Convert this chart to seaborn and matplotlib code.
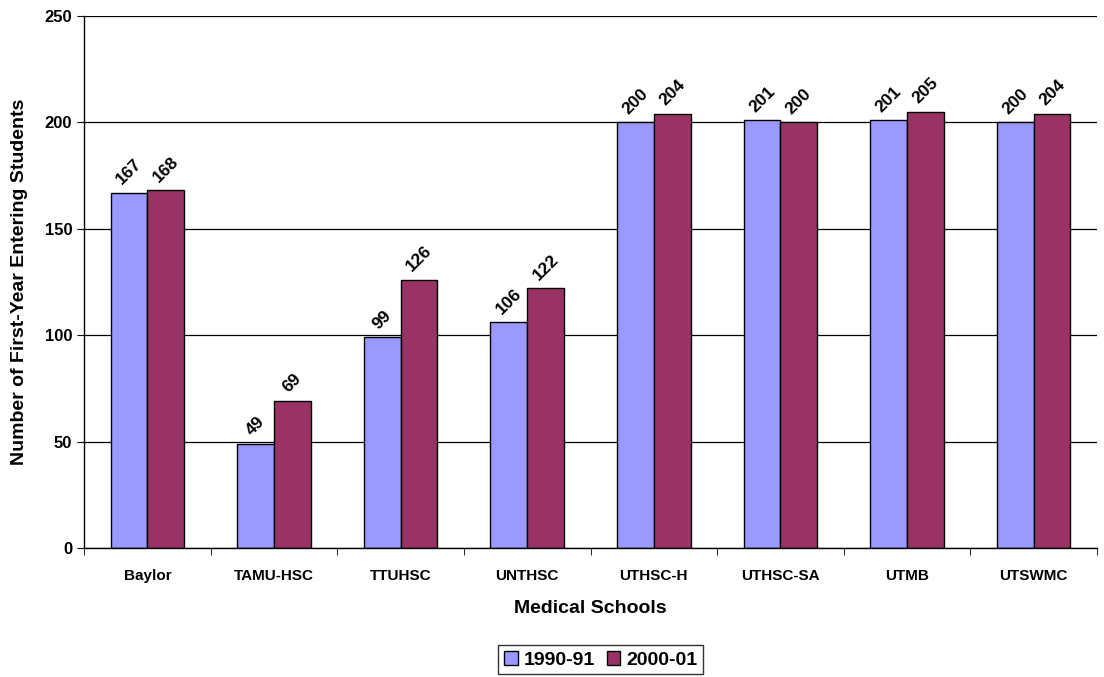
import matplotlib
matplotlib.use("Agg")
import matplotlib.pyplot as plt
import seaborn as sns
import pandas as pd

schools = ['Baylor', 'TAMU-HSC', 'TTUHSC', 'UNTHSC', 'UTHSC-H', 'UTHSC-SA', 'UTMB', 'UTSWMC']
y1990 = [167, 49, 99, 106, 200, 201, 201, 200]
y2000 = [168, 69, 126, 122, 204, 200, 205, 204]
years = ['1990-91', '2000-01']
colors = ['#9999FF', '#993366']

df = pd.DataFrame({
    'school': schools * 2,
    'students': y1990 + y2000,
    'year': [years[0]] * len(schools) + [years[1]] * len(schools),
})

sns.set_style("white")
plt.rcParams['font.family'] = ['Liberation Sans', 'DejaVu Sans']
plt.rcParams['font.weight'] = 'bold'
plt.rcParams['text.color'] = 'black'
plt.rcParams['axes.labelcolor'] = 'black'
plt.rcParams['xtick.color'] = 'black'
plt.rcParams['ytick.color'] = 'black'

fig = plt.figure(figsize=(11.04, 6.77), dpi=100)
ax = fig.add_axes([0.0761, 0.1905, 0.9176, 0.786])

sns.barplot(data=df, x='school', y='students', hue='year', palette=colors,
            saturation=1, width=0.58, edgecolor='black', linewidth=1.0, ax=ax, legend=True)

for cont in ax.containers:
    for bar in cont:
        h = bar.get_height()
        ax.annotate(f"{h:.0f}", (bar.get_x() + bar.get_width() / 2, h),
                    xytext=(0, 4), textcoords='offset points',
                    ha='center', va='bottom', rotation=45,
                    fontsize=12.5, fontweight='bold')

ax.set_ylim(0, 250)
ax.set_yticks(range(0, 251, 50))
ax.set_xlim(-0.5, 7.5)
ax.yaxis.grid(True, color='black', linewidth=0.9)
ax.set_axisbelow(True)
for s in ['top', 'right']:
    ax.spines[s].set_visible(False)
for s in ['left', 'bottom']:
    ax.spines[s].set_color('black')
    ax.spines[s].set_linewidth(1.0)

ax.set_xticks([i + 0.5 for i in range(-1, 8)], minor=True)
ax.tick_params(axis='x', which='major', length=0, labelsize=11, pad=15)
ax.tick_params(axis='x', which='minor', length=5, color='black', direction='out', bottom=True)
ax.tick_params(axis='y', length=5, color='black', direction='out', left=True, labelsize=12)
for lab in ax.get_xticklabels() + ax.get_yticklabels():
    lab.set_fontweight('bold')

ax.set_xlabel('Medical Schools', fontsize=14, fontweight='bold', labelpad=12)
ax.set_ylabel('Number of First-Year Entering Students', fontsize=14, fontweight='bold', labelpad=12)

leg = ax.legend(loc='center', bbox_to_anchor=(0.51, -0.21), ncol=2, frameon=True,
                fancybox=False, edgecolor='black', fontsize=14, handlelength=0.7,
                handleheight=0.7, handletextpad=0.3, columnspacing=0.6,
                borderpad=0.3, title=None)
leg.get_frame().set_linewidth(1.0)
for t in leg.get_texts():
    t.set_fontweight('bold')

fig.savefig('out.png', dpi=100)
